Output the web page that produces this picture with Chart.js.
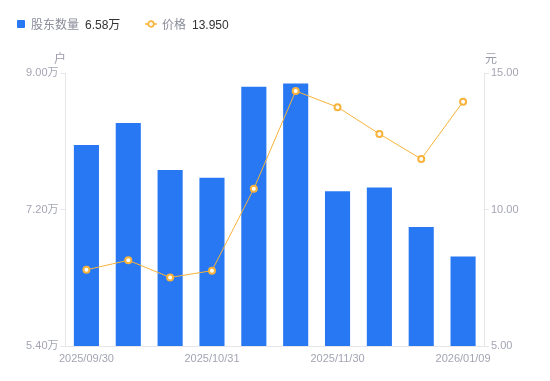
<!DOCTYPE html>
<html>
<head>
<meta charset="utf-8">
<script src="https://cdn.jsdelivr.net/npm/chart.js@4/dist/chart.umd.min.js"></script>
<style>
  html, body { margin: 0; padding: 0; background: #fff; }
  #wrap { position: relative; width: 550px; height: 381px; font-family: "Liberation Sans", "Noto Sans CJK SC", sans-serif; }
  canvas { position: absolute; left: 0; top: 0; }
  .lg { position: absolute; top: 17px; font-size: 12px; line-height: 16px; white-space: nowrap; }
  .lg .name { color: #8a8c99; }
  .lg .val { color: #333; margin-left: 6px; }
  .sq { position: absolute; left: 17px; top: 20px; width: 8px; height: 8px; background: #2878F4; border-radius: 1px; }
  .unit { position: absolute; top: 49px; font-size: 12px; color: #9a9cab; }
</style>
</head>
<body>
<div id="wrap">
  <canvas id="c" width="550" height="381"></canvas>
  <div class="sq"></div>
  <div class="lg" style="left:31px"><span class="name">股东数量</span><span class="val">6.58万</span></div>
  <svg style="position:absolute;left:145px;top:19px" width="12" height="10"><line x1="0" y1="5" x2="12" y2="5" stroke="#F7B33B" stroke-width="1.5"/><circle cx="6" cy="5" r="2.8" fill="#fff" stroke="#F7B33B" stroke-width="1.8"/></svg>
  <div class="lg" style="left:162px"><span class="name">价格</span><span class="val">13.950</span></div>
  <div class="unit" style="left:54px">户</div>
  <div class="unit" style="left:485px">元</div>
</div>
<script>
const categories = ['2025/09/30','2025/10/10','2025/10/20','2025/10/31','2025/11/10','2025/11/20','2025/11/30','2025/12/10','2025/12/31','2026/01/09'];
const holders = [80500, 83400, 77200, 76200, 88200, 88600, 74400, 74900, 69700, 65800];
const prices = [7.79, 8.14, 7.51, 7.76, 10.76, 14.34, 13.75, 12.77, 11.85, 13.95];
const holderTicks = [54000, 72000, 90000];
const priceTicks = [5, 10, 15];
const shownLabelIdx = [0, 3, 6, 9];

const tickColor = '#a3a5b3';
const lineColor = '#e6e6ea';

new Chart(document.getElementById('c'), {
  data: {
    labels: categories,
    datasets: [
      {
        type: 'line',
        data: prices,
        yAxisID: 'y1',
        borderColor: '#F7B33B',
        borderWidth: 1,
        pointRadius: 3,
        pointBorderWidth: 2,
        pointBackgroundColor: '#fff',
        pointBorderColor: '#F7B33B',
        tension: 0,
        order: 0
      },
      {
        type: 'bar',
        data: holders,
        yAxisID: 'y',
        backgroundColor: '#2878F4',
        borderWidth: 0,
        categoryPercentage: 1,
        barPercentage: 0.6,
        order: 1
      }
    ]
  },
  options: {
    responsive: false,
    animation: false,
    layout: { padding: { top: 73, left: 0, right: 0, bottom: 0 } },
    plugins: { legend: { display: false }, tooltip: { enabled: false } },
    scales: {
      x: {
        grid: { display: false, drawTicks: false },
        border: { display: true, color: lineColor },
        ticks: {
          autoSkip: false, maxRotation: 0, padding: 6,
          color: tickColor, font: { size: 11, family: '"Liberation Sans", "Noto Sans CJK SC"' },
          callback: function (v, i) { return shownLabelIdx.includes(i) ? categories[i] : ''; }
        },
        afterFit: function (s) { s.height = 35; }
      },
      y: {
        position: 'left',
        min: holderTicks[0], max: holderTicks[holderTicks.length - 1],
        afterBuildTicks: function (s) { s.ticks = holderTicks.map(v => ({ value: v })); },
        grid: { drawOnChartArea: false, drawTicks: true, tickLength: 5, color: lineColor },
        border: { display: true, color: lineColor },
        ticks: {
          padding: 2, color: tickColor, font: { size: 11, family: '"Liberation Sans", "Noto Sans CJK SC"' },
          callback: function (v) { return (v / 10000).toFixed(2) + '万'; }
        },
        afterFit: function (s) { s.width = 65.5; }
      },
      y1: {
        position: 'right',
        min: priceTicks[0], max: priceTicks[priceTicks.length - 1],
        afterBuildTicks: function (s) { s.ticks = priceTicks.map(v => ({ value: v })); },
        grid: { drawOnChartArea: false, drawTicks: true, tickLength: 5, color: lineColor },
        border: { display: true, color: lineColor },
        ticks: {
          padding: 2, color: tickColor, font: { size: 11, family: '"Liberation Sans", "Noto Sans CJK SC"' },
          callback: function (v) { return v.toFixed(2); }
        },
        afterFit: function (s) { s.width = 66; }
      }
    }
  }
});
</script>
</body>
</html>
